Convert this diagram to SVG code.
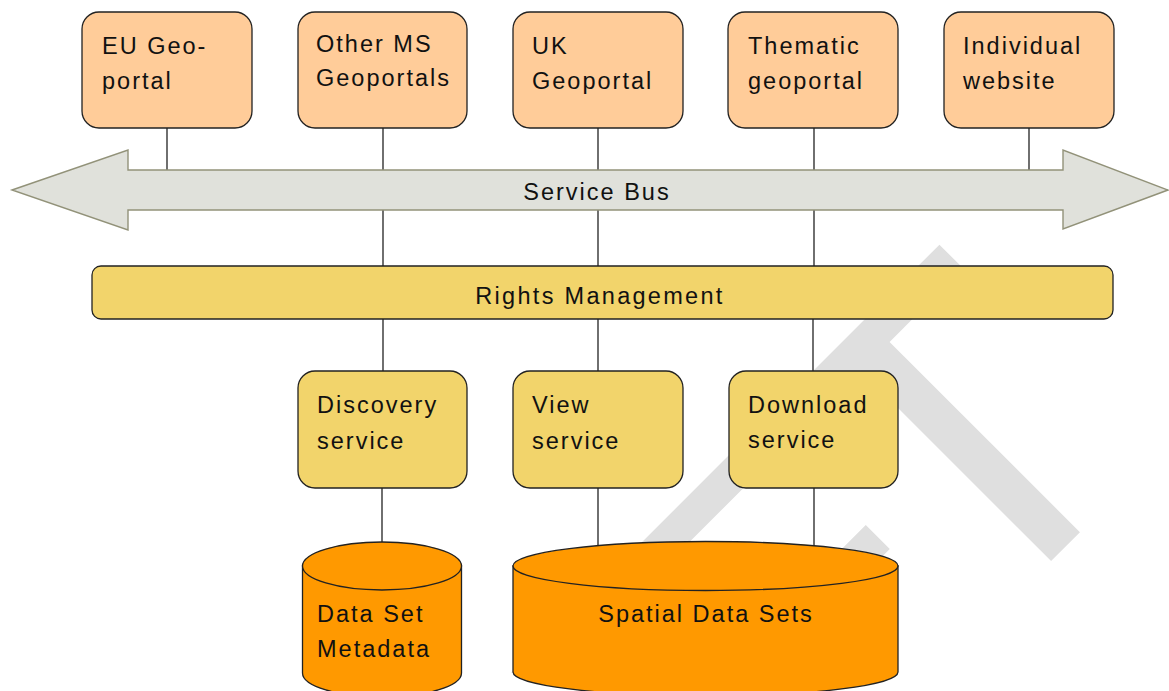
<svg xmlns="http://www.w3.org/2000/svg" width="1169" height="691" viewBox="0 0 1169 691">
<style>
  .lbl { font-family: "Liberation Sans", Arial, sans-serif; font-size: 23.5px; letter-spacing: 2px; fill: #111; }
  .mid { text-anchor: middle; }
  .portal { fill: #ffcc99; stroke: #222; stroke-width: 1.3; }
  .svc { fill: #f2d46b; stroke: #222; stroke-width: 1.3; }
  .db { fill: #ff9900; stroke: #222; stroke-width: 1.3; }
  .bus { fill: #e0e1db; stroke: #929279; stroke-width: 1.4; }
  .conn line { stroke: #222; stroke-width: 1.3; }
  .wm { font-family: "Liberation Sans", Arial, sans-serif; font-size: 440px; fill: #dfdfdf; }
</style>
<defs>
  <clipPath id="wmclip"><rect x="0" y="0" width="1169" height="673"/></clipPath>
</defs>
<rect x="0" y="0" width="1169" height="691" fill="#ffffff"/>

<g id="watermark" clip-path="url(#wmclip)">
  <text class="wm" transform="rotate(-45)" y="1140"><tspan x="31" text-anchor="end">DRA</tspan><tspan x="-5">F</tspan><tspan x="367" text-anchor="middle">T</tspan></text>
</g>

<g id="connectors" class="conn">
  <line x1="167" y1="128" x2="167" y2="171"/>
  <line x1="383" y1="128" x2="383" y2="266"/>
  <line x1="598" y1="128" x2="598" y2="266"/>
  <line x1="814" y1="128" x2="814" y2="266"/>
  <line x1="1029" y1="128" x2="1029" y2="171"/>
  <line x1="383" y1="319" x2="383" y2="371"/>
  <line x1="598" y1="319" x2="598" y2="371"/>
  <line x1="813" y1="319" x2="813" y2="371"/>
  <line x1="382" y1="488" x2="382" y2="542"/>
  <line x1="598" y1="488" x2="598" y2="546"/>
  <line x1="814" y1="488" x2="814" y2="546"/>
</g>

<g id="eu-geoportal">
  <rect class="portal" x="82" y="12" width="170" height="116" rx="17"/>
  <text class="lbl" x="102" y="54">EU Geo-</text>
  <text class="lbl" x="102" y="89">portal</text>
</g>
<g id="other-ms-geoportals">
  <rect class="portal" x="298" y="12" width="169" height="116" rx="17"/>
  <text class="lbl" x="316" y="52">Other MS</text>
  <text class="lbl" x="316" y="86">Geoportals</text>
</g>
<g id="uk-geoportal">
  <rect class="portal" x="513" y="12" width="170" height="116" rx="17"/>
  <text class="lbl" x="532" y="54">UK</text>
  <text class="lbl" x="532" y="89">Geoportal</text>
</g>
<g id="thematic-geoportal">
  <rect class="portal" x="728" y="12" width="170" height="116" rx="17"/>
  <text class="lbl" x="748" y="54">Thematic</text>
  <text class="lbl" x="748" y="89">geoportal</text>
</g>
<g id="individual-website">
  <rect class="portal" x="944" y="12" width="170" height="116" rx="17"/>
  <text class="lbl" x="963" y="54">Individual</text>
  <text class="lbl" x="963" y="89">website</text>
</g>

<g id="service-bus">
  <polygon class="bus" points="12,190 128,150 128,170 1063,170 1063,150 1168,190 1063,229 1063,210 128,210 128,230"/>
  <text class="lbl mid" x="597" y="200">Service Bus</text>
</g>

<g id="rights-management">
  <rect class="svc" x="92" y="266" width="1021" height="53" rx="9"/>
  <text class="lbl mid" x="600" y="304" style="letter-spacing:2.3px">Rights Management</text>
</g>

<g id="discovery-service">
  <rect class="svc" x="298" y="371" width="169" height="117" rx="17"/>
  <text class="lbl" x="317" y="413">Discovery</text>
  <text class="lbl" x="317" y="449">service</text>
</g>
<g id="view-service">
  <rect class="svc" x="513" y="371" width="170" height="117" rx="17"/>
  <text class="lbl" x="532" y="413">View</text>
  <text class="lbl" x="532" y="449">service</text>
</g>
<g id="download-service">
  <rect class="svc" x="729" y="371" width="169" height="117" rx="17"/>
  <text class="lbl" x="748" y="413">Download</text>
  <text class="lbl" x="748" y="448">service</text>
</g>

<g id="data-set-metadata">
  <path class="db" d="M302.5,566 L302.5,673 A79.5,24 0 0 0 461.5,673 L461.5,566 Z"/>
  <ellipse class="db" cx="382" cy="566" rx="79.5" ry="24"/>
  <text class="lbl" x="317" y="622">Data Set</text>
  <text class="lbl" x="317" y="657">Metadata</text>
</g>

<g id="spatial-data-sets">
  <path class="db" d="M513,566 L513,672 A192.5,24 0 0 0 898,672 L898,566 Z"/>
  <ellipse class="db" cx="705.5" cy="566" rx="192.5" ry="24.5"/>
  <text class="lbl mid" x="706" y="622">Spatial Data Sets</text>
</g>
</svg>
